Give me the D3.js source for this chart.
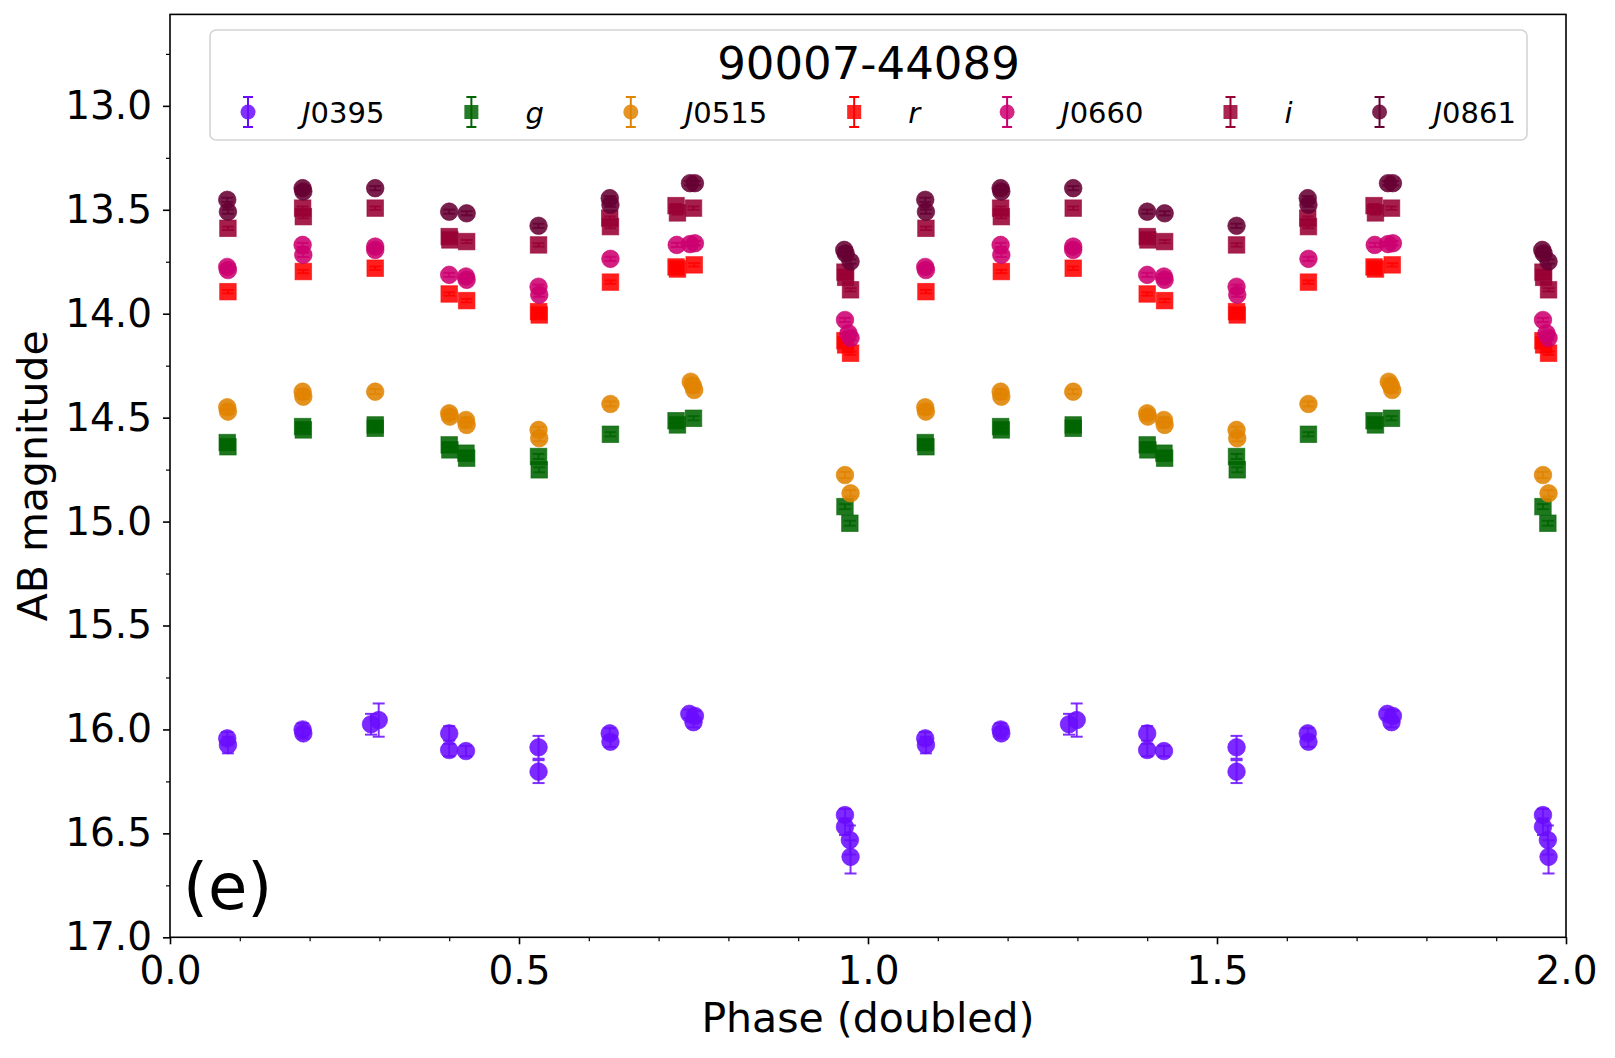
<!DOCTYPE html>
<html>
<head>
<meta charset="utf-8">
<script src="https://cdn.jsdelivr.net/npm/d3@7"></script>
<style>
  body { margin: 0; background: #fff; }
  svg { font-family: "DejaVu Sans", sans-serif; }
  .tick text { fill: #000; }
</style>
</head>
<body>
<div id="chart"></div>
<script>
// ---- data (phase in [0,1); the plot shows phase and phase+1) ----
var filters = ["J0395", "g", "J0515", "r", "J0660", "i", "J0861"];
var colors = ["#6a0dff", "#006400", "#e08300", "#ff0000", "#cc0070", "#990033", "#660033"];
var shapes = ["circle", "square", "circle", "square", "circle", "square", "circle"];

var phase_J0395 = [0.082, 0.083, 0.190, 0.191, 0.288, 0.299, 0.400, 0.400, 0.424, 0.528, 0.528, 0.630, 0.631, 0.744, 0.750, 0.752, 0.967, 0.967, 0.974, 0.975];
var mag_J0395   = [16.043, 16.075, 16.000, 16.019, 15.975, 15.955, 16.019, 16.099, 16.104, 16.086, 16.203, 16.019, 16.059, 15.925, 15.965, 15.935, 16.412, 16.468, 16.532, 16.613];
var err_J0395   = [0.03, 0.04, 0.03, 0.025, 0.05, 0.08, 0.035, 0.03, 0.025, 0.055, 0.055, 0.025, 0.025, 0.02, 0.025, 0.025, 0.03, 0.04, 0.07, 0.08];

var phase_g = [0.082, 0.083, 0.190, 0.191, 0.294, 0.294, 0.400, 0.401, 0.424, 0.425, 0.528, 0.529, 0.631, 0.725, 0.727, 0.750, 0.967, 0.974];
var mag_g   = [14.620, 14.640, 14.543, 14.559, 14.535, 14.551, 14.631, 14.655, 14.671, 14.695, 14.687, 14.751, 14.580, 14.515, 14.535, 14.503, 14.928, 15.008];
var err_g   = [0.01, 0.01, 0.01, 0.01, 0.01, 0.01, 0.01, 0.01, 0.01, 0.01, 0.012, 0.012, 0.01, 0.01, 0.01, 0.01, 0.012, 0.012];

var phase_J0515 = [0.082, 0.083, 0.190, 0.191, 0.294, 0.400, 0.401, 0.424, 0.425, 0.528, 0.529, 0.631, 0.746, 0.749, 0.751, 0.967, 0.975];
var mag_J0515   = [14.450, 14.471, 14.375, 14.399, 14.375, 14.479, 14.495, 14.511, 14.535, 14.559, 14.599, 14.434, 14.327, 14.345, 14.367, 14.776, 14.864];
var err_J0515   = [0.012, 0.012, 0.012, 0.012, 0.012, 0.012, 0.012, 0.012, 0.012, 0.015, 0.015, 0.012, 0.012, 0.012, 0.012, 0.015, 0.015];

var phase_r = [0.083, 0.191, 0.294, 0.400, 0.425, 0.528, 0.529, 0.631, 0.725, 0.727, 0.751, 0.967, 0.968, 0.975];
var mag_r   = [13.894, 13.797, 13.781, 13.905, 13.937, 13.990, 14.006, 13.848, 13.775, 13.785, 13.765, 14.130, 14.150, 14.190];
var err_r   = [0.008, 0.008, 0.008, 0.008, 0.008, 0.008, 0.008, 0.008, 0.008, 0.008, 0.008, 0.008, 0.008, 0.008];

var phase_J0660 = [0.082, 0.083, 0.190, 0.191, 0.294, 0.294, 0.400, 0.424, 0.425, 0.528, 0.529, 0.631, 0.726, 0.745, 0.752, 0.967, 0.972, 0.975];
var mag_J0660   = [13.775, 13.790, 13.669, 13.717, 13.677, 13.693, 13.813, 13.821, 13.837, 13.870, 13.909, 13.736, 13.669, 13.665, 13.661, 14.030, 14.094, 14.117];
var err_J0660   = [0.01, 0.01, 0.01, 0.01, 0.01, 0.01, 0.01, 0.01, 0.01, 0.01, 0.01, 0.01, 0.01, 0.01, 0.01, 0.01, 0.01, 0.01];

var phase_i = [0.083, 0.190, 0.191, 0.294, 0.400, 0.401, 0.425, 0.528, 0.630, 0.631, 0.725, 0.727, 0.750, 0.967, 0.968, 0.975];
var mag_i   = [13.589, 13.492, 13.533, 13.492, 13.629, 13.645, 13.653, 13.669, 13.540, 13.581, 13.480, 13.515, 13.492, 13.800, 13.825, 13.885];
var err_i   = [0.008, 0.008, 0.008, 0.008, 0.008, 0.008, 0.008, 0.008, 0.008, 0.008, 0.008, 0.008, 0.008, 0.008, 0.008, 0.008];

var phase_J0861 = [0.082, 0.083, 0.190, 0.191, 0.294, 0.400, 0.425, 0.528, 0.630, 0.631, 0.745, 0.752, 0.966, 0.968, 0.975];
var mag_J0861   = [13.452, 13.509, 13.396, 13.412, 13.396, 13.509, 13.517, 13.577, 13.444, 13.476, 13.372, 13.372, 13.693, 13.710, 13.749];
var err_J0861   = [0.01, 0.01, 0.01, 0.01, 0.01, 0.01, 0.01, 0.01, 0.01, 0.01, 0.01, 0.01, 0.01, 0.01, 0.01];

var phases = [phase_J0395, phase_g, phase_J0515, phase_r, phase_J0660, phase_i, phase_J0861];
var mags   = [mag_J0395, mag_g, mag_J0515, mag_r, mag_J0660, mag_i, mag_J0861];
var errs   = [err_J0395, err_g, err_J0515, err_r, err_J0660, err_i, err_J0861];

var xTicks = [0.0, 0.5, 1.0, 1.5, 2.0];
var yTicks = [13.0, 13.5, 14.0, 14.5, 15.0, 15.5, 16.0, 16.5, 17.0];
var titleText = "90007-44089";
var panelLabel = "(e)";

// ---- layout ----
var width = 1615, height = 1058;
var margins = { left: 170, right: 49, top: 14.4, bottom: 120.7 };
var plotW = width - margins.left - margins.right;
var plotH = height - margins.top - margins.bottom;

var svg = d3.select("#chart").append("svg")
    .attr("width", width)
    .attr("height", height);

var g = svg.append("g")
    .attr("transform", "translate(" + margins.left + "," + margins.top + ")");

var x = d3.scaleLinear().domain([0, 2]).range([0, plotW]);
var y = d3.scaleLinear().domain([12.56, 17.0]).range([0, plotH]);

// minor ticks
var xMinor = d3.range(0, 2.0001, 0.1).filter(function(v) { return Math.abs(v * 2 - Math.round(v * 2)) > 1e-6; });
var yMinor = d3.range(12.75, 17.0, 0.5);

g.append("g")
    .attr("transform", "translate(0," + plotH + ")")
    .call(d3.axisBottom(x).tickValues(xMinor).tickSize(4).tickFormat(""))
    .call(function(s) { s.select(".domain").remove(); s.selectAll("line").attr("stroke-width", 1.2); });

g.append("g")
    .call(d3.axisLeft(y).tickValues(yMinor).tickSize(4).tickFormat(""))
    .call(function(s) { s.select(".domain").remove(); s.selectAll("line").attr("stroke-width", 1.2); });

// major ticks
g.append("g")
    .attr("transform", "translate(0," + plotH + ")")
    .call(d3.axisBottom(x).tickValues(xTicks).tickSize(7).tickPadding(12).tickFormat(d3.format(".1f")))
    .call(function(s) {
        s.select(".domain").remove();
        s.selectAll("line").attr("stroke-width", 1.6);
        s.selectAll("text").attr("font-size", 39).attr("font-family", "DejaVu Sans");
    });

g.append("g")
    .call(d3.axisLeft(y).tickValues(yTicks).tickSize(7).tickPadding(11).tickFormat(d3.format(".1f")))
    .call(function(s) {
        s.select(".domain").remove();
        s.selectAll("line").attr("stroke-width", 1.6);
        s.selectAll("text").attr("font-size", 39).attr("font-family", "DejaVu Sans");
    });

// points
var plotArea = g.append("g");
var capW = 12, rCircle = 8.8, sq = 16.5;

filters.forEach(function(f, k) {
    var pts = [];
    phases[k].forEach(function(p, j) {
        pts.push({ p: p, m: mags[k][j], e: errs[k][j] });
        pts.push({ p: p + 1, m: mags[k][j], e: errs[k][j] });
    });
    var layer = plotArea.append("g").attr("class", "series-" + f);
    var eb = layer.append("g")
        .attr("stroke", colors[k]).attr("stroke-width", 2).attr("stroke-opacity", 0.85);
    pts.forEach(function(d) {
        var cx = x(d.p), y0 = y(d.m - d.e), y1 = y(d.m + d.e);
        eb.append("line").attr("x1", cx).attr("x2", cx).attr("y1", y0).attr("y2", y1);
        eb.append("line").attr("x1", cx - capW / 2).attr("x2", cx + capW / 2).attr("y1", y0).attr("y2", y0);
        eb.append("line").attr("x1", cx - capW / 2).attr("x2", cx + capW / 2).attr("y1", y1).attr("y2", y1);
    });
    if (shapes[k] === "circle") {
        layer.selectAll("circle.pt").data(pts).enter().append("circle")
            .attr("class", "pt")
            .attr("cx", function(d) { return x(d.p); })
            .attr("cy", function(d) { return y(d.m); })
            .attr("r", rCircle)
            .attr("fill", colors[k]).attr("fill-opacity", 0.88)
            .attr("stroke", colors[k]).attr("stroke-opacity", 0.6).attr("stroke-width", 1);
    } else {
        layer.selectAll("rect.pt").data(pts).enter().append("rect")
            .attr("class", "pt")
            .attr("x", function(d) { return x(d.p) - sq / 2; })
            .attr("y", function(d) { return y(d.m) - sq / 2; })
            .attr("width", sq).attr("height", sq)
            .attr("fill", colors[k]).attr("fill-opacity", 0.88)
            .attr("stroke", colors[k]).attr("stroke-opacity", 0.6).attr("stroke-width", 1);
    }
});

// frame
g.append("rect")
    .attr("x", 0).attr("y", 0).attr("width", plotW).attr("height", plotH)
    .attr("fill", "none").attr("stroke", "#000").attr("stroke-width", 1.6);

// panel label
g.append("text")
    .attr("x", 13).attr("y", y(16.98) - 24)
    .attr("font-size", 64)
    .text(panelLabel);

// axis labels
svg.append("text")
    .attr("x", margins.left + plotW / 2)
    .attr("y", 1032)
    .attr("text-anchor", "middle")
    .attr("font-size", 41)
    .text("Phase (doubled)");

svg.append("text")
    .attr("transform", "rotate(-90)")
    .attr("x", -(margins.top + plotH / 2))
    .attr("y", 47)
    .attr("text-anchor", "middle")
    .attr("font-size", 41)
    .text("AB magnitude");

// legend
var leg = svg.append("g");
var legBox = { x: 210, y: 30, w: 1317, h: 110 };
leg.append("rect")
    .attr("x", legBox.x).attr("y", legBox.y)
    .attr("width", legBox.w).attr("height", legBox.h)
    .attr("rx", 6).attr("ry", 6)
    .attr("fill", "#fff").attr("fill-opacity", 0.8)
    .attr("stroke", "#d4d4d4").attr("stroke-width", 1.6);

leg.append("text")
    .attr("x", legBox.x + legBox.w / 2)
    .attr("y", 79)
    .attr("text-anchor", "middle")
    .attr("font-size", 45)
    .text(titleText);

var entryY = 112, mx = 248, colSpacing = 87, labelOffset = 54;
filters.forEach(function(f, k) {
    var eg = leg.append("g").attr("transform", "translate(" + mx + "," + entryY + ")");
    eg.append("line").attr("x1", 0).attr("x2", 0).attr("y1", -15).attr("y2", 15)
        .attr("stroke", colors[k]).attr("stroke-width", 2);
    eg.append("line").attr("x1", -5).attr("x2", 5).attr("y1", -15).attr("y2", -15)
        .attr("stroke", colors[k]).attr("stroke-width", 2);
    eg.append("line").attr("x1", -5).attr("x2", 5).attr("y1", 15).attr("y2", 15)
        .attr("stroke", colors[k]).attr("stroke-width", 2);
    if (shapes[k] === "circle") {
        eg.append("circle").attr("r", 7.5).attr("fill", colors[k]).attr("fill-opacity", 0.85);
    } else {
        eg.append("rect").attr("x", -7).attr("y", -7).attr("width", 14).attr("height", 14)
            .attr("fill", colors[k]).attr("fill-opacity", 0.85);
    }
    var t = leg.append("text")
        .attr("x", mx + labelOffset)
        .attr("y", entryY + 10.5)
        .attr("font-size", 29);
    var letter = f.charAt(0), rest = f.slice(1);
    t.append("tspan").attr("font-style", "italic").text(letter);
    if (rest) t.append("tspan").text(rest);
    mx = mx + labelOffset + t.node().getComputedTextLength() + colSpacing;
});
</script>
</body>
</html>
